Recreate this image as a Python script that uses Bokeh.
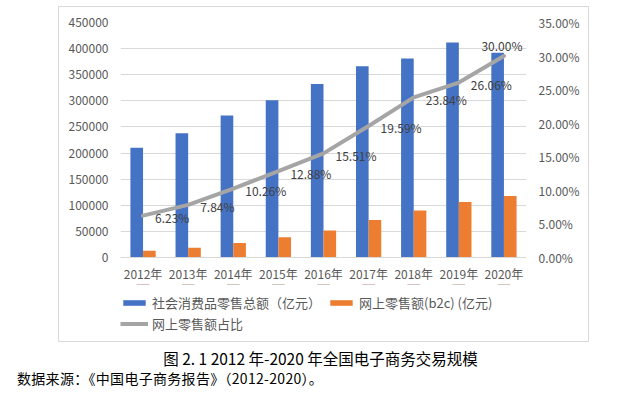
from bokeh.plotting import figure
from bokeh.layouts import column
from bokeh.models import (ColumnDataSource, FactorRange, Range1d, LinearAxis, Legend,
                          LegendItem, Label, FixedTicker, Div,
                          PrintfTickFormatter, BasicTickFormatter)
from bokeh.transform import dodge
from bokeh.embed import file_html
from bokeh.resources import INLINE
from bokeh.core.properties import value

# ---------------- data ----------------
years = ["2012年", "2013年", "2014年", "2015年", "2016年", "2017年", "2018年", "2019年", "2020年"]
retail_total = [210307, 237810, 271896, 300931, 332316, 366262, 380987, 411649, 391981]
online_retail = [13110, 18851, 27898, 38773, 51556, 71751, 90065, 106324, 117601]
online_share = [6.23, 7.84, 10.26, 12.88, 15.51, 19.59, 23.84, 26.06, 30.00]
left_ticks = [0, 50000, 100000, 150000, 200000, 250000, 300000, 350000, 400000, 450000]
right_ticks = [0, 5, 10, 15, 20, 25, 30, 35]
series_names = ["社会消费品零售总额（亿元）", "网上零售额(b2c) (亿元)", "网上零售额占比"]
chart_title = "图 2. 1 2012 年-2020 年全国电子商务交易规模"
source_note = "数据来源：《中国电子商务报告》（2012-2020）。"

FONT = "Noto Sans CJK SC"
BLUE, ORANGE, GRAY = "#4472C4", "#ED7D31", "#A5A5A5"
FRAME = "#D9D9D9"

src = ColumnDataSource(dict(year=years, total=retail_total, online=online_retail,
                            share=online_share))
lab_main = ColumnDataSource(dict(year=years[:-1], share=online_share[:-1],
                                 label=[f"{v:.2f}%" for v in online_share[:-1]]))
lab_last = ColumnDataSource(dict(year=years[-1:], share=online_share[-1:],
                                 label=[f"{v:.2f}%" for v in online_share[-1:]]))

W = 622
H_TOP = 284
H_MID = 84
H_BOT = 24
p = figure(x_range=FactorRange(*years, range_padding=0, factor_padding=0),
           y_range=Range1d(0, 450000),
           width=W, height=H_TOP, output_backend="svg", toolbar_location=None,
           min_border_left=120, min_border_right=W - 526, min_border_top=22,
           min_border_bottom=H_TOP - 257)
p.extra_y_ranges = {"pct": Range1d(0, 35)}
p.border_fill_color = None
p.background_fill_color = None

bar_total = p.vbar(x=dodge("year", -0.14, range=p.x_range), top="total", width=0.28,
                   source=src, fill_color=BLUE, line_color=None)
bar_online = p.vbar(x=dodge("year", 0.14, range=p.x_range), top="online", width=0.28,
                    source=src, fill_color=ORANGE, line_color=None)
share_line = p.line(x="year", y="share", source=src, y_range_name="pct",
                    line_color=GRAY, line_width=4, line_cap="round", line_join="round")

p.text(x="year", y="share", text="label", source=lab_main, y_range_name="pct",
       x_offset=12, y_offset=2, text_align="left", text_baseline="middle",
       text_font=value(FONT), text_font_size="12px", text_color="#404040")
p.text(x="year", y="share", text="label", source=lab_last, y_range_name="pct",
       x_offset=-2, y_offset=-11, text_align="center", text_baseline="middle",
       text_font=value(FONT), text_font_size="12px", text_color="#404040")

# axes & grid
p.outline_line_color = None
p.xgrid.grid_line_color = None
p.ygrid.ticker = FixedTicker(ticks=left_ticks)
p.ygrid.grid_line_color = FRAME
p.ygrid.grid_line_width = 1


def style_axis(ax, standoff):
    ax.major_tick_line_color = None
    ax.minor_tick_line_color = None
    ax.major_tick_out = 0
    ax.major_tick_in = 0
    ax.minor_tick_out = 0
    ax.major_label_standoff = standoff
    ax.major_label_text_font = FONT
    ax.major_label_text_font_size = "12px"
    ax.major_label_text_color = "#595959"


ya = p.yaxis[0]
ya.ticker = FixedTicker(ticks=left_ticks)
ya.formatter = BasicTickFormatter(use_scientific=False)
ya.axis_line_color = None
style_axis(ya, 12)

ra = LinearAxis(y_range_name="pct", ticker=FixedTicker(ticks=right_ticks),
                formatter=PrintfTickFormatter(format="%.2f%%"))
ra.axis_line_color = None
style_axis(ra, 12)
p.add_layout(ra, "right")

xa = p.xaxis[0]
xa.axis_line_color = FRAME
style_axis(xa, 7)

# ---------------- middle panel: legend + figure caption ----------------
q = figure(width=W, height=H_MID, x_range=FactorRange(*years), y_range=Range1d(-2, -1),
           x_axis_type=None, y_axis_type=None, output_backend="svg",
           toolbar_location=None, min_border=0)
q.border_fill_color = None
q.background_fill_color = None
q.outline_line_color = None
q.grid.visible = False

# legend proxies: same series, drawn outside this panel's (negative) y range
px_total = q.vbar(x="year", top="total", width=0.28, source=src, fill_color=BLUE,
                  line_color=None)
px_online = q.vbar(x="year", top="online", width=0.28, source=src, fill_color=ORANGE,
                   line_color=None)
px_line = q.line(x="year", y="share", source=src, line_color=GRAY, line_width=4)

leg_common = dict(orientation="horizontal", padding=0, margin=0, spacing=6,
                  label_standoff=4, glyph_width=28, glyph_height=7, label_height=15,
                  border_line_color=None, background_fill_alpha=0, label_text_font=FONT,
                  label_text_font_size="13px", label_text_color="#595959")
leg1 = Legend(items=[LegendItem(label=series_names[0], renderers=[px_total]),
                     LegendItem(label=series_names[1], renderers=[px_online])],
              location=(0, 56), **leg_common)
leg2 = Legend(items=[LegendItem(label=series_names[2], renderers=[px_line])],
              location=(0, 35), **leg_common)
q.add_layout(leg1)
q.add_layout(leg2)

q.add_layout(Label(x=200, y=11, x_units="screen", y_units="screen", text=chart_title,
                   text_align="center", text_baseline="middle", text_font=FONT,
                   text_font_size="15.5px", text_color="#000000"))

# ---------------- bottom: data source note ----------------
note = Div(text=source_note, width=W, height=H_BOT, styles={
    "font-family": FONT, "font-size": "14px", "line-height": "10px",
    "padding-left": "12px", "color": "#000000", "white-space": "nowrap",
    "letter-spacing": "0.3px",
})

grad = f"linear-gradient({FRAME},{FRAME})"
layout = column(p, q, note, spacing=0, styles={
    "background-color": "white",
    "background-image": ",".join([grad] * 4),
    "background-size": "531px 1px, 531px 1px, 1px 336px, 1px 336px",
    "background-position": "58px 6px, 58px 341px, 58px 6px, 588px 6px",
    "background-repeat": "no-repeat",
})

open("out.html", "w").write(file_html(layout, INLINE))
